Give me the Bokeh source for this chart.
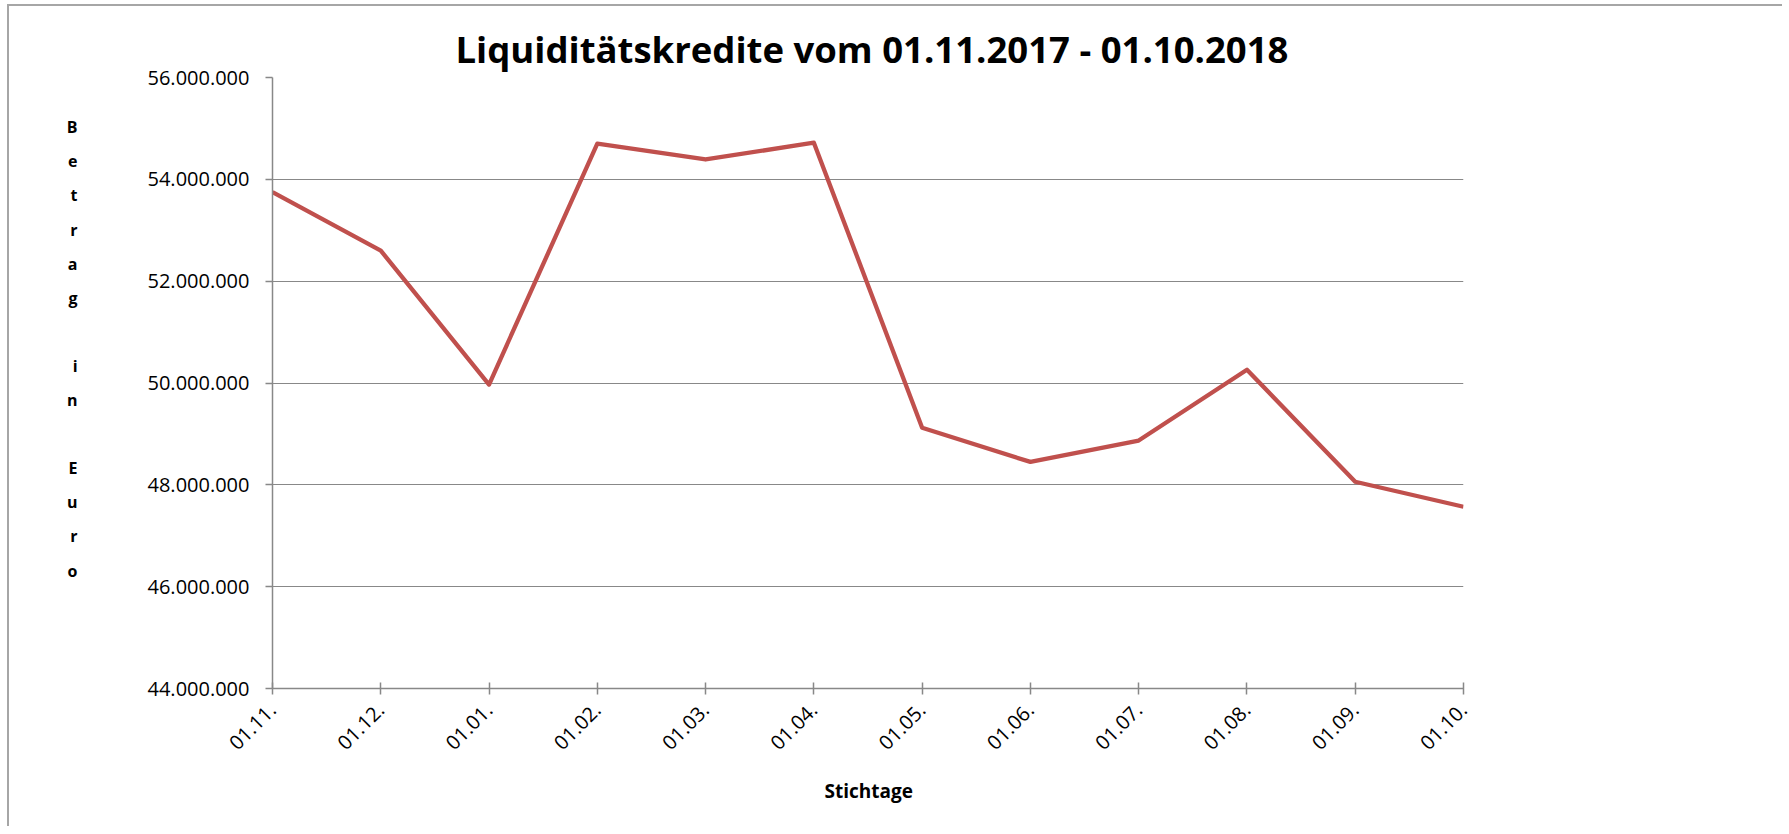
from bokeh.plotting import figure
from bokeh.models import Range1d, FixedTicker, Title
from bokeh.embed import file_html
from bokeh.resources import INLINE

# --- data ---
months = ["01.11.", "01.12.", "01.01.", "01.02.", "01.03.", "01.04.",
          "01.05.", "01.06.", "01.07.", "01.08.", "01.09.", "01.10."]
betrag = [53750000, 52600000, 49970000, 54700000, 54390000, 54720000,
          49120000, 48450000, 48870000, 50260000, 48060000, 47570000]
y_ticks = [44000000, 46000000, 48000000, 50000000, 52000000, 54000000, 56000000]
y_tick_labels = ["44.000.000", "46.000.000", "48.000.000", "50.000.000",
                 "52.000.000", "54.000.000", "56.000.000"]
title_text = "Liquiditätskredite vom 01.11.2017 - 01.10.2018"
x_label = "Stichtage"
y_label = "B\ne\nt\nr\na\ng\n\ni\nn\n\nE\nu\nr\no\n\n"

FONT = "Open Sans"
GRID = "#888888"

xs = list(range(len(months)))

p = figure(width=1775, height=822, output_backend="svg", toolbar_location=None,
           x_range=Range1d(0, len(months) - 1), y_range=Range1d(y_ticks[0], y_ticks[-1]),
           min_border_left=263, min_border_top=71, min_border_right=321, min_border_bottom=140)
p.styles = {"border-top": "2px solid #a6a6a6", "border-left": "2px solid #a6a6a6",
            "margin-left": "7px", "margin-top": "4px"}
p.outline_line_color = None
p.background_fill_color = "white"

p.line(xs, betrag, line_color="#C0504D", line_width=4.3, line_join="round")

# axes
p.xaxis.ticker = FixedTicker(ticks=xs)
p.xaxis.major_label_overrides = {i: m for i, m in zip(xs, months)}
p.xaxis.major_label_orientation = 0.785398
p.yaxis.ticker = FixedTicker(ticks=y_ticks)
p.yaxis.major_label_overrides = {t: l for t, l in zip(y_ticks, y_tick_labels)}

for ax in (p.xaxis, p.yaxis):
    ax.axis_line_color = GRID
    ax.axis_line_width = 1.5
    ax.major_tick_line_color = GRID
    ax.major_tick_line_width = 1.5
    ax.minor_tick_line_color = None
    ax.major_label_text_font = FONT
    ax.major_label_text_font_size = "20px"
    ax.major_label_text_color = "black"

p.xaxis.major_tick_in = 6
p.xaxis.major_tick_out = 6
p.xaxis.major_label_standoff = 12
p.yaxis.major_tick_in = 0
p.yaxis.major_tick_out = 7
p.yaxis.major_label_standoff = 16

p.yaxis.axis_label = y_label
p.yaxis.axis_label_orientation = "horizontal"
p.yaxis.axis_label_text_font = FONT
p.yaxis.axis_label_text_font_style = "bold"
p.yaxis.axis_label_text_font_size = "16px"
p.yaxis.axis_label_text_line_height = 1.55
p.yaxis.axis_label_text_color = "black"
p.yaxis.axis_label_standoff = 67

p.xgrid.grid_line_color = None
p.ygrid.grid_line_color = GRID
p.ygrid.grid_line_width = 1.2
p.ygrid.ticker = FixedTicker(ticks=y_ticks)

p.add_layout(Title(text=title_text, align="left", offset=183, standoff=8,
                   text_font=FONT, text_font_style="bold", text_font_size="36.5px",
                   text_color="black"), "above")
p.add_layout(Title(text=x_label, align="left", offset=552, standoff=33,
                   text_font=FONT, text_font_style="bold", text_font_size="19px",
                   text_color="black"), "below")

open("out.html", "w").write(file_html(p, INLINE))
